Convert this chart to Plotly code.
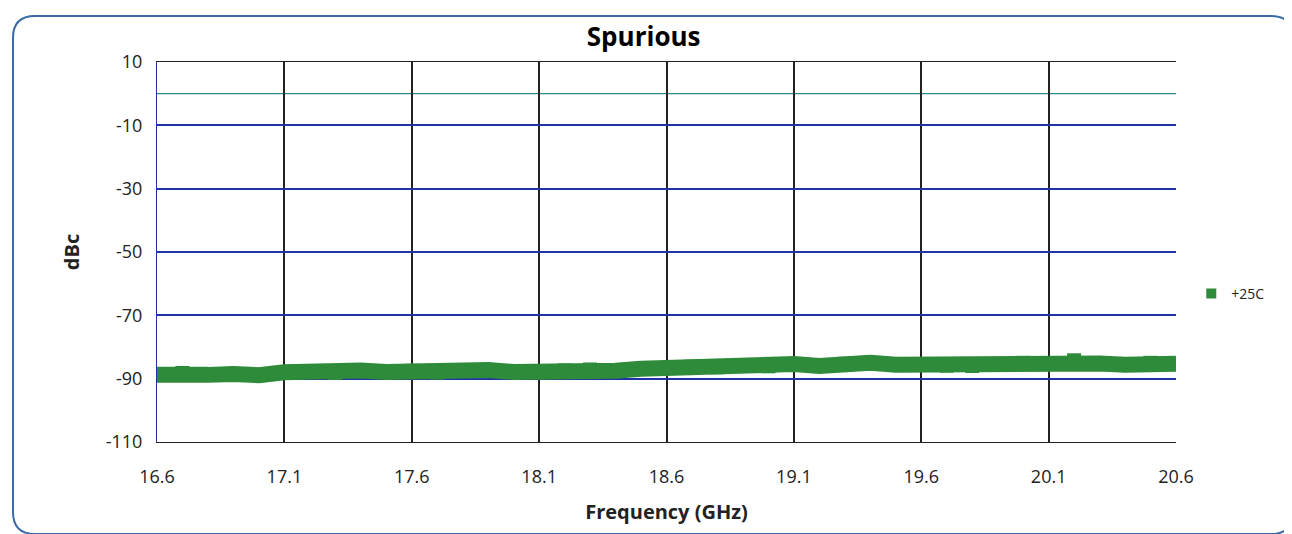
import plotly.graph_objects as go

freq = [16.6,16.7,16.8,16.9,17.0,17.1,17.2,17.3,17.4,17.5,17.6,17.7,17.8,17.9,18.0,18.1,18.2,18.3,18.4,18.5,18.6,
        18.7,18.8,18.9,19.0,19.1,19.2,19.3,19.4,19.5,19.6,19.7,19.8,19.9,20.0,20.1,20.2,20.3,20.4,20.5,20.6]
dbc = [-88.8,-88.2,-88.8,-88.5,-88.9,-88.0,-87.6,-88.2,-87.4,-87.9,-87.5,-88.1,-87.6,-87.3,-87.9,-88.0,-87.4,-87.1,-87.5,-86.9,-86.6,
       -86.2,-86.4,-85.8,-86.1,-85.4,-86.0,-85.3,-85.0,-85.6,-85.4,-85.9,-86.0,-85.5,-85.0,-85.3,-84.2,-85.2,-85.6,-85.0,-85.3]
yticks = [10, -10, -30, -50, -70, -90, -110]
xticks = [16.6, 17.1, 17.6, 18.1, 18.6, 19.1, 19.6, 20.1, 20.6]

L, T, W, H = 149, 54, 1019, 380
def px(x, y):
    return (x - L) / W, (T + H - y) / H
def rounded(x0, y0, x1, y1, r):
    def p(x, y):
        a, b = px(x, y); return f"{a:.5f},{b:.5f}"
    return (f"M {p(x0+r,y0)} L {p(x1-r,y0)} Q {p(x1,y0)} {p(x1,y0+r)} L {p(x1,y1-r)} Q {p(x1,y1)} {p(x1-r,y1)} "
            f"L {p(x0+r,y1)} Q {p(x0,y1)} {p(x0,y1-r)} L {p(x0,y0+r)} Q {p(x0,y0)} {p(x0+r,y0)} Z")

fig = go.Figure()
fig.add_trace(go.Scatter(x=freq, y=dbc, name="+25C", mode="lines+markers", showlegend=False,
                         line=dict(color="#2e8b3a", width=16),
                         marker=dict(symbol="square", size=14, color="#2e8b3a")))
fig.add_trace(go.Scatter(x=[None], y=[None], name="+25C", mode="markers", showlegend=True,
                         marker=dict(symbol="square", size=10, color="#2e8b3a")))
fig.update_layout(
    width=1292, height=534, paper_bgcolor="white", plot_bgcolor="white",
    margin=dict(l=L, r=1292 - L - W, t=T, b=534 - T - H),
    title=dict(text="<b>Spurious</b>", x=0.492, y=0.945, yref="container", xanchor="center", yanchor="middle",
               font=dict(size=26, color="black", family="Open Sans")),
    font=dict(family="Open Sans", color="#222", size=18),
    showlegend=True,
    legend=dict(x=1.015, y=0.39, xanchor="left", yanchor="middle", font=dict(size=14), itemwidth=30),
    xaxis=dict(range=[16.6, 20.6], tickvals=xticks, ticktext=[f"{v:.1f}" for v in xticks],
               showgrid=True, gridcolor="#222", gridwidth=1.5, zeroline=False, ticklabelstandoff=18,
               title=dict(text="<b>Frequency (GHz)</b>", font=dict(size=20), standoff=18),
               showline=True, linecolor="#222", mirror=True),
    yaxis=dict(range=[-110, 10], tickvals=yticks, ticktext=[str(v) for v in yticks], showgrid=True,
               gridcolor="#2233aa", gridwidth=1.5, zeroline=False, ticklabelstandoff=10,
               title=dict(text="<b>dBc</b>", font=dict(size=20), standoff=20), showline=True, linecolor="#2233aa"),
)
fig.add_shape(type="line", xref="paper", yref="y", x0=0, x1=1, y0=0, y1=0, line=dict(color="#2a8a8a", width=1.2), layer="below")
fig.add_shape(type="path", xref="paper", yref="paper", path=rounded(5, 8, 1285, 526, 22),
              line=dict(color="#3a6aa8", width=2), layer="below")
fig.write_html("out.html")
